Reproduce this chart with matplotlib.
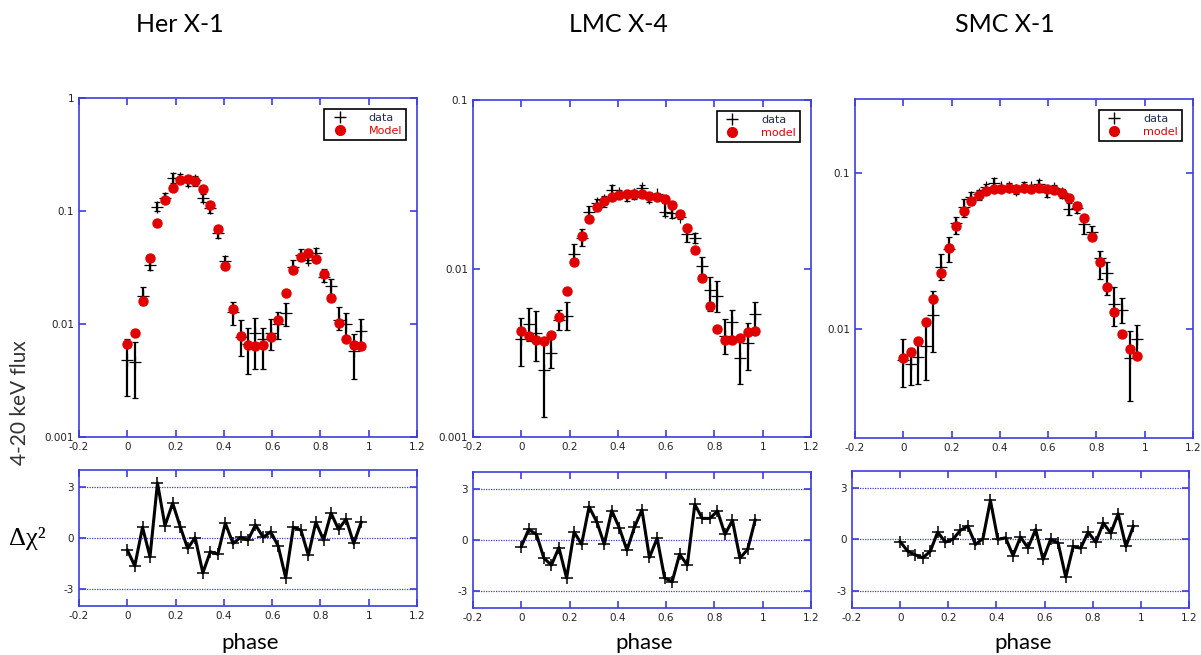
#!/usr/bin/env python3
import numpy as np
import matplotlib
matplotlib.use('Agg')
import matplotlib.pyplot as plt
from matplotlib.lines import Line2D

# phase bins
phase = [0.0, 0.031, 0.063, 0.094, 0.125, 0.156, 0.188, 0.219, 0.25, 0.281, 0.313, 0.344,
         0.375, 0.406, 0.438, 0.469, 0.5, 0.531, 0.563, 0.594, 0.625, 0.656, 0.688, 0.719,
         0.75, 0.781, 0.813, 0.844, 0.875, 0.906, 0.938, 0.969]

# Her X-1
her_data = [0.00478, 0.00459, 0.0178, 0.0335, 0.1095, 0.130, 0.195, 0.195, 0.182, 0.189, 0.130, 0.106,
            0.0635, 0.0363, 0.0128, 0.0077, 0.0067, 0.0084, 0.0074, 0.0084, 0.0101, 0.0125, 0.0322, 0.0408,
            0.0368, 0.0422, 0.0262, 0.0217, 0.0108, 0.0100, 0.00575, 0.0087]
her_lo = [0.00232, 0.00222, 0.0147, 0.0300, 0.1009, 0.117, 0.176, 0.179, 0.165, 0.167, 0.120, 0.0968,
          0.0581, 0.0328, 0.0098, 0.0052, 0.0036, 0.0040, 0.0040, 0.0059, 0.0074, 0.0096, 0.0290, 0.0368,
          0.0344, 0.0400, 0.0237, 0.0184, 0.0088, 0.0074, 0.00327, 0.0063]
her_hi = [0.00734, 0.00695, 0.0211, 0.0368, 0.1213, 0.144, 0.219, 0.213, 0.199, 0.205, 0.142, 0.117,
          0.0728, 0.0402, 0.0155, 0.0108, 0.0093, 0.0113, 0.0093, 0.0110, 0.0129, 0.0153, 0.0368, 0.0458,
          0.0394, 0.0467, 0.0305, 0.0252, 0.0140, 0.0126, 0.00813, 0.0111]
her_model = [0.00663, 0.00841, 0.01585, 0.0384, 0.0784, 0.1246, 0.1603, 0.1862, 0.1912, 0.1824, 0.1560,
             0.1132, 0.0689, 0.0326, 0.01354, 0.00781, 0.00650, 0.00637, 0.00650, 0.00760, 0.01089,
             0.01891, 0.0298, 0.0394, 0.0428, 0.0376, 0.0277, 0.01708, 0.01011, 0.00734, 0.00650, 0.00637]
her_resid = [-0.71, -1.64, 0.63, -1.10, 3.24, 0.73, 2.05, 0.67, -0.61, 0.02, -2.05, -0.81, -0.95, 0.87,
             -0.32, 0.04, -0.12, 0.77, 0.04, 0.37, -0.47, -2.33, 0.63, 0.47, -1.01, 0.93, -0.12, 1.46,
             0.51, 1.11, -0.32, 0.93]

# LMC X-4
lmc_data = [0.00384, 0.00471, 0.00417, 0.00251, 0.00316, 0.00493, 0.00524, 0.01217, 0.01508, 0.02151,
            0.02433, 0.02546, 0.02920, 0.02790, 0.02690, 0.02765, 0.02987, 0.02605, 0.02765, 0.02171,
            0.02122, 0.02027, 0.01600, 0.01508, 0.01037, 0.00750, 0.00691, 0.00396, 0.00482, 0.00295,
            0.00359, 0.00540]
lmc_lo = [0.00263, 0.00372, 0.00283, 0.00132, 0.00257, 0.00430, 0.00430, 0.01056, 0.01364, 0.01911,
          0.02262, 0.02304, 0.02665, 0.02641, 0.02512, 0.02570, 0.02790, 0.02489, 0.02665, 0.02046,
          0.01982, 0.01955, 0.01440, 0.01421, 0.00872, 0.00560, 0.00553, 0.00310, 0.00375, 0.00207,
          0.00249, 0.00446]
lmc_hi = [0.00507, 0.00587, 0.00560, 0.00375, 0.00384, 0.00566, 0.00634, 0.01395, 0.01713, 0.02346,
          0.02570, 0.02690, 0.03126, 0.02920, 0.02854, 0.02920, 0.03126, 0.02765, 0.02815, 0.02433,
          0.02273, 0.02122, 0.01690, 0.01629, 0.01173, 0.00892, 0.00845, 0.00502, 0.00571, 0.00375,
          0.00478, 0.00634]
lmc_model = [0.00424, 0.00398, 0.00375, 0.00372, 0.00405, 0.00516, 0.00740, 0.01096, 0.01563, 0.01972,
             0.02304, 0.02523, 0.02665, 0.02727, 0.02752, 0.02765, 0.02752, 0.02690, 0.02641, 0.02593,
             0.02378, 0.02103, 0.01728, 0.01285, 0.00876, 0.00597, 0.00436, 0.00375, 0.00375, 0.00389,
             0.00421, 0.00426]
lmc_resid = [-0.39, 0.62, 0.33, -1.07, -1.48, -0.45, -2.24, 0.47, -0.25, 1.95, 1.07, -0.25, 1.73, 0.72,
             -0.60, 0.76, 1.77, -1.03, 0.10, -2.24, -2.46, -0.84, -1.48, 2.09, 1.27, 1.27, 1.70, 0.33,
             1.15, -1.07, -0.55, 1.17]

# SMC X-1
smc_data = [0.00636, 0.00600, 0.00658, 0.00782, 0.01223, 0.02521, 0.03273, 0.04781, 0.06053, 0.07018,
            0.07372, 0.08134, 0.08713, 0.08134, 0.08214, 0.07821, 0.08214, 0.08134, 0.08501, 0.07632,
            0.08016, 0.07444, 0.05878, 0.05966, 0.04711, 0.04227, 0.02851, 0.02286, 0.01446, 0.01330,
            0.00649, 0.00863]
smc_lo = [0.00425, 0.00435, 0.00446, 0.00473, 0.00712, 0.02072, 0.02688, 0.04085, 0.05275, 0.06266,
          0.06747, 0.07632, 0.08214, 0.07821, 0.07899, 0.07372, 0.07705, 0.07821, 0.07821, 0.07087,
          0.07632, 0.06915, 0.05407, 0.05596, 0.04085, 0.03927, 0.02092, 0.01660, 0.01040, 0.01093,
          0.00347, 0.00668]
smc_hi = [0.00867, 0.00755, 0.00793, 0.01103, 0.01744, 0.03041, 0.03927, 0.05223, 0.06813, 0.07632,
          0.07821, 0.08501, 0.09289, 0.08416, 0.08627, 0.08296, 0.08843, 0.08416, 0.09064, 0.08214,
          0.08416, 0.07899, 0.06422, 0.06580, 0.05146, 0.04597, 0.03192, 0.02715, 0.01859, 0.01580,
          0.00966, 0.01066]
smc_model = [0.00652, 0.00712, 0.00834, 0.01103, 0.01564, 0.02308, 0.03322, 0.04597, 0.05707, 0.06680,
             0.07264, 0.07745, 0.07899, 0.07939, 0.08016, 0.07939, 0.08016, 0.07977, 0.08016, 0.07939,
             0.07821, 0.07444, 0.06950, 0.06176, 0.05146, 0.03888, 0.02715, 0.01850, 0.01279, 0.00934,
             0.00748, 0.00668]
smc_resid = [-0.12, -0.68, -0.90, -1.07, -0.70, 0.43, -0.16, 0.00, 0.53, 0.78, -0.29, 0.05, 2.28, 0.00,
             0.10, -0.94, 0.14, -0.49, 0.58, -1.17, 0.00, -0.19, -2.20, -0.41, -0.51, 0.43, -0.16, 0.96,
             0.37, 1.50, -0.41, 0.78]

names = ['Her X-1', 'LMC X-4', 'SMC X-1']
model_labels = ['Model', 'model', 'model']
ylims = [(0.001, 1), (0.001, 0.1), (0.002, 0.3)]
yticks = [[0.001, 0.01, 0.1, 1], [0.001, 0.01, 0.1], [0.01, 0.1]]
xticks = [-0.2, 0, 0.2, 0.4, 0.6, 0.8, 1, 1.2]
xticklabels = ['-0.2', '0', '0.2', '0.4', '0.6', '0.8', '1', '1.2']

sets = [(her_data, her_lo, her_hi, her_model, her_resid),
        (lmc_data, lmc_lo, lmc_hi, lmc_model, lmc_resid),
        (smc_data, smc_lo, smc_hi, smc_model, smc_resid)]

blue = '#3d3ddb'
tickfont = ['Liberation Sans Narrow', 'DejaVu Sans']
labelfont = ['Lato', 'DejaVu Sans']

fig = plt.figure(figsize=(12.01, 6.55), dpi=100)

top_pos = [[0.0658, 0.3328, 0.2814, 0.5176],
           [0.3938, 0.3328, 0.2814, 0.5145],
           [0.7119, 0.3313, 0.2814, 0.5176]]
bot_pos = [[0.0658, 0.0748, 0.2814, 0.2076],
           [0.3938, 0.0718, 0.2814, 0.2076],
           [0.7094, 0.0718, 0.2806, 0.2092]]
title_x = [0.150, 0.515, 0.837]


def style_axes(ax):
    for s in ax.spines.values():
        s.set_color(blue)
        s.set_linewidth(1.2)
    ax.tick_params(which='both', direction='in', top=True, right=True,
                   color=blue, length=5, width=1.2, labelsize=7.5, labelcolor='#222222')
    ax.tick_params(which='minor', length=0)
    for lab in ax.get_xticklabels() + ax.get_yticklabels():
        lab.set_family(tickfont)


for k in range(3):
    d, lo, hi, mod, res = sets[k]
    d = np.array(d)
    yerr = [d - np.array(lo), np.array(hi) - d]

    ax = fig.add_axes(top_pos[k])
    ax.set_yscale('log')
    ax.errorbar(phase, d, yerr=yerr, fmt='+', color='black', ecolor='black',
                elinewidth=1.6, capsize=2.5, capthick=1.4, markersize=9, mew=0.9, zorder=2)
    ax.plot(phase, mod, 'o', color='#e00000', markersize=6.5, mec='#e00000', zorder=3)
    ax.set_xlim(-0.2, 1.2)
    ax.set_ylim(*ylims[k])
    ax.set_yticks(yticks[k])
    ax.set_yticklabels([str(t) for t in yticks[k]])
    ax.set_xticks(xticks)
    ax.set_xticklabels(xticklabels)
    style_axes(ax)

    handles = [Line2D([], [], ls='none', marker='+', color='black', markersize=8, mew=1),
               Line2D([], [], ls='none', marker='o', color='#e00000', markersize=7)]
    leg = ax.legend(handles, ['data', model_labels[k]], loc='upper right', fontsize=8,
                    labelcolor=['#1f2d4d', '#e00000'], fancybox=False, framealpha=1,
                    handletextpad=1.6, borderpad=0.4, labelspacing=0.25,
                    bbox_to_anchor=(0.985, 0.985))
    leg.get_frame().set_edgecolor('black')
    leg.get_frame().set_linewidth(1.2)

    fig.text(title_x[k], 0.962, names[k], ha='center', va='center', fontsize=18, family=labelfont)

    bx = fig.add_axes(bot_pos[k])
    for yl in [-3, 0, 3]:
        bx.axhline(yl, color=blue, ls=(0, (1, 1)), lw=0.9, zorder=1)
    bx.plot(phase, res, '-', color='black', lw=2.2, marker='+', markersize=9, mew=1.1, zorder=3)
    bx.set_xlim(-0.2, 1.2)
    bx.set_ylim(-4, 4)
    bx.set_yticks([-3, 0, 3])
    bx.set_yticklabels(['-3', '0', '3'])
    bx.set_xticks(xticks)
    bx.set_xticklabels(xticklabels)
    style_axes(bx)

    cx = bot_pos[k][0] + bot_pos[k][2] / 2
    fig.text(cx + 0.002, 0.018, 'phase', ha='center', va='center', fontsize=16, family=labelfont)

fig.text(0.017, 0.385, '4-20 keV flux', rotation=90, ha='center', va='center',
         fontsize=15, family=labelfont, color='#333333')
fig.text(0.023, 0.178, 'Δχ²', ha='center', va='center', fontsize=19,
         family=['Liberation Serif', 'DejaVu Serif'])

fig.savefig('out.png', dpi=100)
